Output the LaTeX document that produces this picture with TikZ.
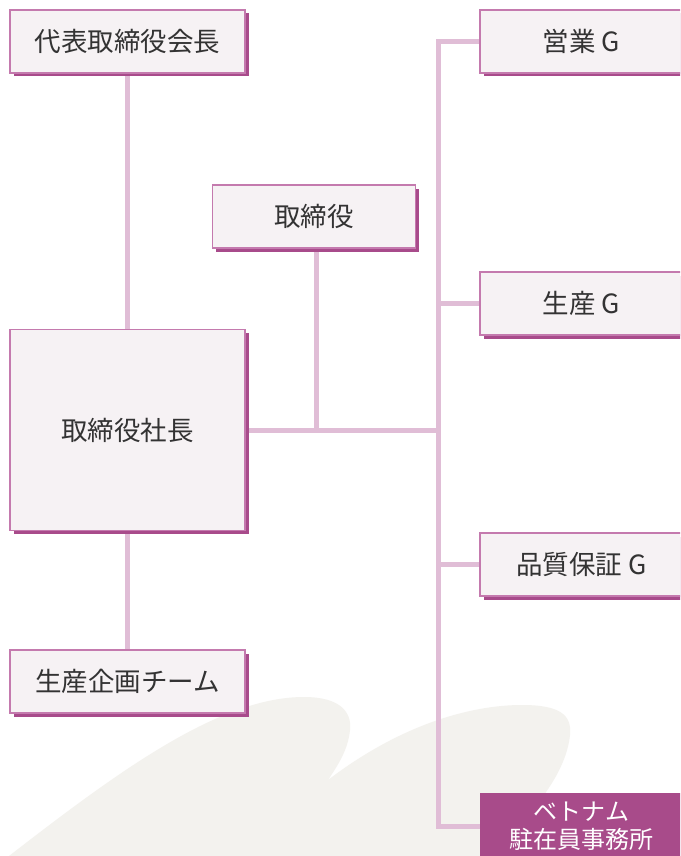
\documentclass[tikz,border=0pt]{standalone}
\usepackage{fontspec}
\setmainfont{Noto Sans CJK JP}
\definecolor{boxfill}{HTML}{F6F2F4}
\definecolor{boxline}{HTML}{C47AAE}
\definecolor{shadowc}{HTML}{A84B8B}
\definecolor{connc}{HTML}{E0BDD6}
\definecolor{blobc}{HTML}{F3F2EE}
\definecolor{txtc}{HTML}{333333}
\definecolor{vietc}{HTML}{A84B8A}
\pgfdeclarelayer{background}
\pgfsetlayers{background,main}
\tikzset{
  orgbox/.style={draw=boxline, line width=1.3pt, fill=boxfill, text=txtc,
    font=\fontsize{26.5}{30}\selectfont, inner sep=0pt,
    preaction={fill=shadowc, transform canvas={shift={(3.5pt,-3.5pt)}}}},
  conn/.style={draw=connc, line width=5pt, line join=miter},
  vietbox/.style={fill=vietc, text=white, inner sep=0pt, align=center,
    font=\fontsize{24}{28}\selectfont}
}
\begin{document}
\begin{tikzpicture}[x=1pt,y=-1pt]
\clip (0,0) rectangle (680,856);
% nodes
\node[orgbox, minimum width=235pt, minimum height=63pt] (chair) at (127.5,41.5) {代表取締役会長};
\node[orgbox, minimum width=203pt, minimum height=63pt] (director) at (314,216.5) {取締役};
\node[orgbox, minimum width=235pt, minimum height=201pt] (pres) at (127.5,430) {取締役社長};
\node[orgbox, minimum width=235pt, minimum height=63pt] (team) at (127.5,681.5) {生産企画チーム};
\node[orgbox, minimum width=203pt, minimum height=63pt] (eigyo) at (581.5,41.5) {営業 G};
\node[orgbox, minimum width=203pt, minimum height=63pt] (seisan) at (581.5,303.5) {生産 G};
\node[orgbox, minimum width=203pt, minimum height=63pt] (hinshitsu) at (581.5,564.5) {品質保証 G};
\node[vietbox, minimum width=203pt, minimum height=66pt] (viet) at (581.5,826) {ベトナム\\駐在員事務所};
\coordinate (spine) at (438,430);
\coordinate (djoin) at (316,430);
\begin{pgfonlayer}{background}
\fill[white] (0,0) rectangle (680,856);
% background blob
\fill[blobc] (9,856) .. controls (120,770) and (220,697) .. (304,697)
  .. controls (340,697) and (352,712) .. (350,730)
  .. controls (348,750) and (338,765) .. (328,780)
  .. controls (400,725) and (470,705) .. (522,705)
  .. controls (560,705) and (572,715) .. (570,735)
  .. controls (568,755) and (558,775) .. (546,792)
  -- (520,856) -- cycle;
% connectors
\draw[conn] (chair.south) -- (pres.north);
\draw[conn] (pres.south) -- (team.north);
\draw[conn] (pres.east) -- (spine);
\draw[conn] (director.south -| djoin) -- (djoin);
\draw[conn] (eigyo.west) -| (spine) |- (viet.west);
\draw[conn] (seisan.west) -- (seisan.west -| spine);
\draw[conn] (hinshitsu.west) -- (hinshitsu.west -| spine);
\end{pgfonlayer}
\end{tikzpicture}
\end{document}
